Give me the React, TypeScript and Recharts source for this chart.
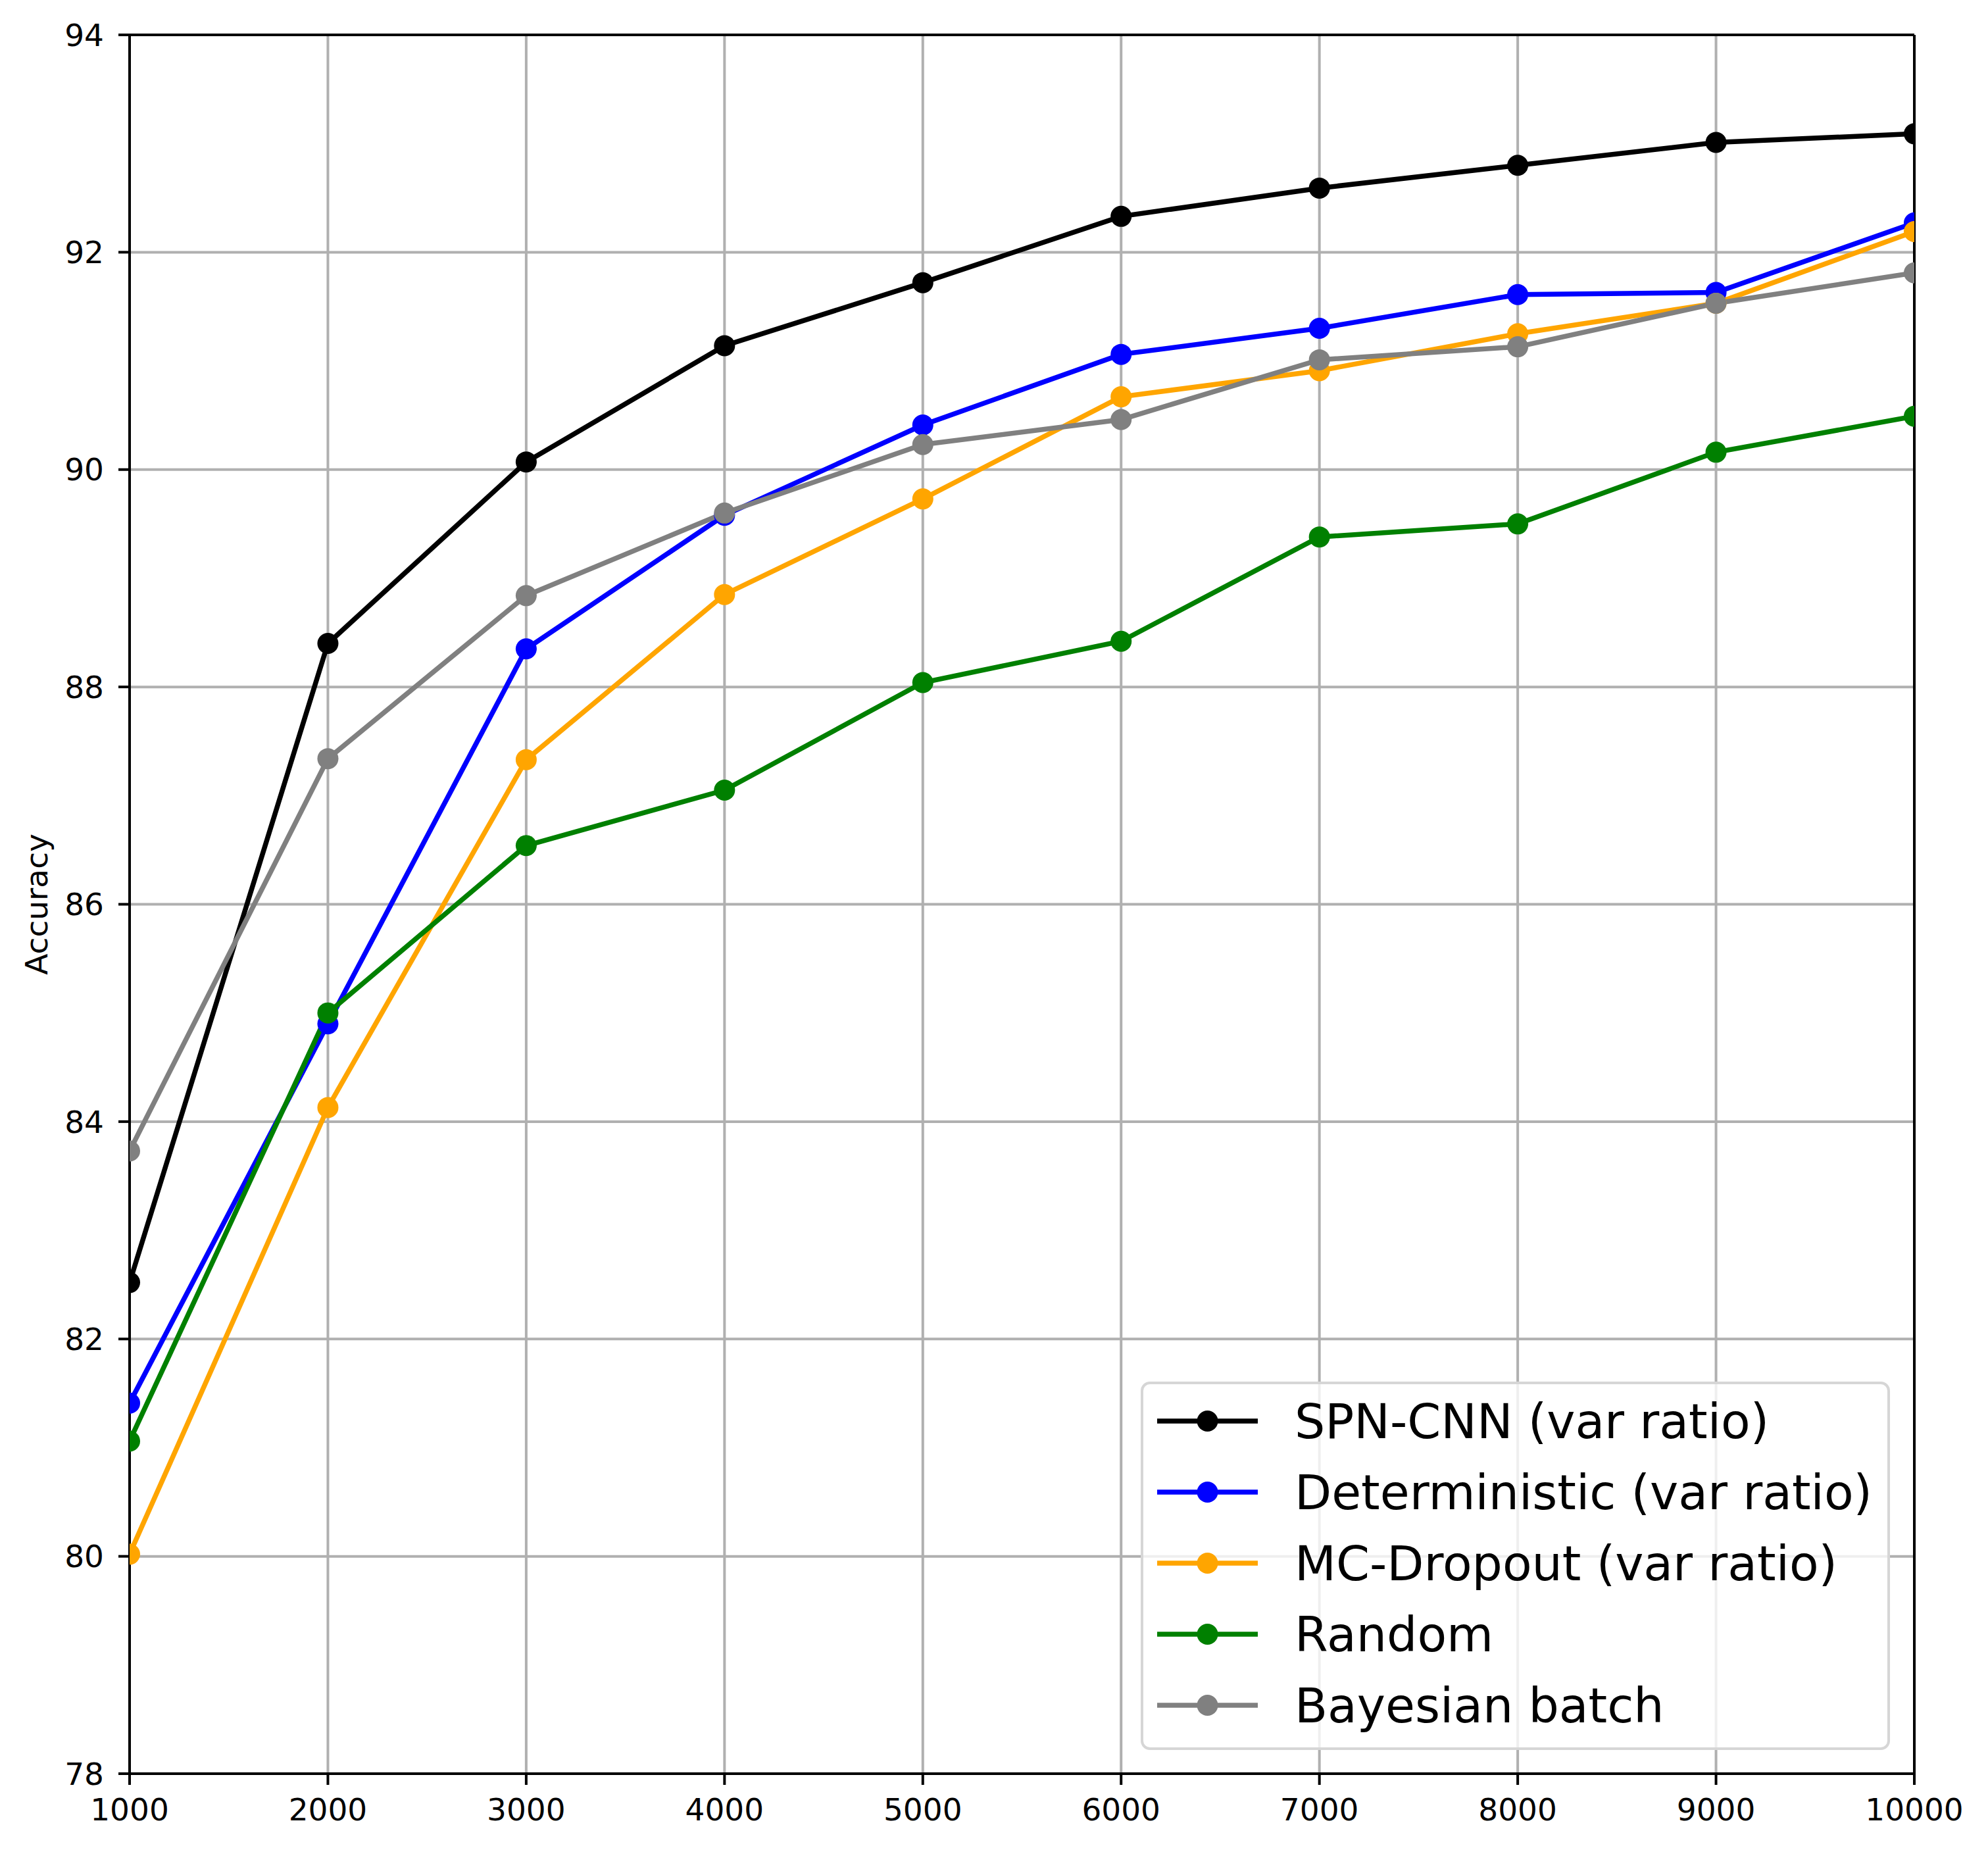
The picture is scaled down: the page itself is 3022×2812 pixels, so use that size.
import React from "react";
import {
  LineChart,
  Line,
  XAxis,
  YAxis,
  CartesianGrid,
  Legend,
  ReferenceLine,
} from "recharts";

const budgets = [1000, 2000, 3000, 4000, 5000, 6000, 7000, 8000, 9000, 10000];
const spnCnn = [82.52, 88.4, 90.07, 91.14, 91.72, 92.33, 92.59, 92.8, 93.01, 93.09];
const deterministic = [81.41, 84.9, 88.35, 89.58, 90.41, 91.06, 91.3, 91.61, 91.63, 92.27];
const mcDropout = [80.02, 84.13, 87.33, 88.85, 89.73, 90.67, 90.91, 91.25, 91.53, 92.19];
const randomSel = [81.06, 85.0, 86.54, 87.05, 88.04, 88.42, 89.38, 89.5, 90.16, 90.49];
const bayesBatch = [83.73, 87.34, 88.84, 89.6, 90.23, 90.46, 91.01, 91.13, 91.53, 91.81];

const xTicks = [1000, 2000, 3000, 4000, 5000, 6000, 7000, 8000, 9000, 10000];
const yTicks = [78, 80, 82, 84, 86, 88, 90, 92, 94];

const series = [
  { key: "spn", name: "SPN-CNN (var ratio)", color: "#000000", values: spnCnn },
  { key: "det", name: "Deterministic (var ratio)", color: "#0000ff", values: deterministic },
  { key: "mc", name: "MC-Dropout (var ratio)", color: "#ffa500", values: mcDropout },
  { key: "rnd", name: "Random", color: "#008000", values: randomSel },
  { key: "bay", name: "Bayesian batch", color: "#808080", values: bayesBatch },
];

const data = budgets.map((b, i) => {
  const row: Record<string, number> = { budget: b };
  series.forEach((s) => {
    row[s.key] = s.values[i];
  });
  return row;
});

const font = "'DejaVu Sans', sans-serif";

const renderLegend = () => (
  <div
    style={{
      boxSizing: "border-box",
      width: 1139,
      height: 560,
      border: "4px solid #d6d6d6",
      borderRadius: 14,
      background: "rgba(255,255,255,0.8)",
      paddingTop: 2,
      fontFamily: font,
    }}
  >
    {series.map((s) => (
      <div
        key={s.key}
        style={{ height: 108, display: "flex", alignItems: "center" }}
      >
        <svg width={230} height={108} style={{ flex: "none" }}>
          <line x1={21} x2={174} y1={54} y2={54} stroke={s.color} strokeWidth={7.5} />
          <circle cx={97.5} cy={54} r={16} fill={s.color} />
        </svg>
        <span style={{ fontSize: 73, lineHeight: 1, color: "#000", whiteSpace: "nowrap" }}>
          {s.name}
        </span>
      </div>
    ))}
  </div>
);

const YLabel = (props: any) => {
  const vb = props.viewBox || {};
  const cy = (vb.y || 0) + (vb.height || 0) / 2;
  const x = 64;
  return (
    <text
      x={x}
      y={cy}
      transform={`rotate(-90, ${x}, ${cy})`}
      textAnchor="middle"
      fontSize={47}
      fontFamily={font}
      fill="#000"
    >
      Accuracy
    </text>
  );
};

export default function App() {
  return (
    <div style={{ width: 3006, height: 2796, fontFamily: font }}>
      <LineChart
        width={3006}
        height={2796}
        data={data}
        margin={{ top: 45, right: 104, bottom: 0, left: 0 }}
      >
        <CartesianGrid stroke="#b0b0b0" strokeWidth={4} />
        <XAxis
          dataKey="budget"
          type="number"
          domain={[1000, 10000]}
          ticks={xTicks}
          allowDataOverflow
          height={108}
          tickSize={17}
          tickMargin={21}
          axisLine={{ stroke: "#000", strokeWidth: 4 }}
          tickLine={{ stroke: "#000", strokeWidth: 4 }}
          tick={{ fill: "#000", fontSize: 47, fontFamily: font }}
          interval={0}
        />
        <YAxis
          type="number"
          domain={[78, 94]}
          ticks={yTicks}
          allowDataOverflow
          width={189}
          tickSize={17}
          tickMargin={22}
          axisLine={{ stroke: "#000", strokeWidth: 4 }}
          tickLine={{ stroke: "#000", strokeWidth: 4 }}
          tick={{ fill: "#000", fontSize: 47, fontFamily: font }}
          interval={0}
          label={{ content: YLabel }}
        />
        {series.map((s) => (
          <Line
            key={s.key}
            dataKey={s.key}
            name={s.name}
            stroke={s.color}
            strokeWidth={7.5}
            dot={{ r: 16, fill: s.color, stroke: s.color, strokeWidth: 0 }}
            activeDot={false}
            isAnimationActive={false}
          />
        ))}
        <ReferenceLine x={10000} stroke="#000" strokeWidth={4} />
        <ReferenceLine y={94} stroke="#000" strokeWidth={4} />
        <Legend
          layout="horizontal"
          align="center"
          verticalAlign="middle"
          content={renderLegend}
          wrapperStyle={{ left: 1726, top: 2092, width: 1139, height: 560 }}
        />
      </LineChart>
    </div>
  );
}
